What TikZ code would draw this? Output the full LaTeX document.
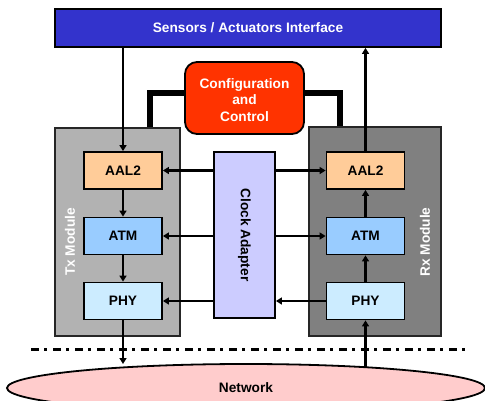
\documentclass[tikz,border=0pt]{standalone}
\usepackage{fontspec}
\setmainfont{Liberation Sans}
\usetikzlibrary{arrows.meta,shapes.geometric}

\definecolor{sensblue}{HTML}{3333CC}
\definecolor{cfgred}{HTML}{FF3300}
\definecolor{aalfill}{HTML}{FFCC99}
\definecolor{atmfill}{HTML}{99CCFF}
\definecolor{phyfill}{HTML}{CCECFF}
\definecolor{clkfill}{HTML}{CCCCFF}
\definecolor{txgray}{HTML}{B2B2B2}
\definecolor{rxgray}{HTML}{808080}
\definecolor{netpink}{HTML}{FFCCCC}

\tikzset{
  txt/.style={font=\fontsize{13.7}{16.5}\selectfont\bfseries},
  layerbox/.style={txt, draw=black, line width=1.8pt, minimum width=78pt, minimum height=37pt, inner sep=0pt},
  modulebox/.style={draw=black!85, line width=2pt, inner sep=0pt},
  flow/.style={line width=2.7pt, -{Triangle[length=6pt,width=7pt]}},
  ctrlbar/.style={line width=6pt},
  modlabel/.style={txt, text=white, rotate=90},
}

\begin{document}
\begin{tikzpicture}[x=1pt,y=-1pt]
\useasboundingbox (0,0) rectangle (485,400);
\clip (0,0) rectangle (485,400);

% top interface bar
\node[txt, draw=black, line width=1.8pt, fill=sensblue, text=white,
      minimum width=386pt, minimum height=38pt, inner sep=0pt] (sens) at (248,28)
      {Sensors / Actuators Interface};

% configuration block
\node[draw=black, line width=1.8pt, fill=cfgred, rounded corners=12pt,
      minimum width=119pt, minimum height=72pt, inner sep=0pt] (cfg) at (244.5,98) {};
\node[txt, text=white, align=center] (cfgtext) at (244.5,100) {Configuration\\and\\Control};

% transmit and receive modules
\node[modulebox, fill=txgray, minimum width=125pt, minimum height=208pt] (tx) at (117.5,232) {};
\node[modulebox, fill=rxgray, minimum width=132pt, minimum height=209pt] (rx) at (375,231.5) {};
\node[modlabel] (txlab) at (70,242) {Tx Module};
\node[modlabel] (rxlab) at (425,242) {Rx Module};

% control links to both modules
\draw[ctrlbar] ([yshift=5.5pt]cfg.west) -| ([xshift=32.5pt]tx.north);
\draw[ctrlbar] ([yshift=5.5pt]cfg.east) -| ([xshift=-35.5pt]rx.north);

% protocol layers
\node[layerbox, fill=aalfill] (txaal) at (123,170.5) {AAL2};
\node[layerbox, fill=atmfill] (txatm) at (123,236) {ATM};
\node[layerbox, fill=phyfill] (txphy) at (123,301) {PHY};
\node[layerbox, fill=aalfill] (rxaal) at (365.5,170.5) {AAL2};
\node[layerbox, fill=atmfill] (rxatm) at (365.5,236) {ATM};
\node[layerbox, fill=phyfill] (rxphy) at (365.5,301) {PHY};

% clock adapter
\node[draw=black, line width=1.8pt, fill=clkfill, minimum width=61pt, minimum height=166pt, inner sep=0pt] (clk) at (244.5,235) {};
\node[txt, rotate=-90] (clktext) at (clk.center) {Clock Adapter};

% separator between equipment and network
\coordinate (sepl) at (31,349);
\coordinate (sepr) at (465,349);
\draw[line width=3pt, dash pattern=on 8pt off 5pt on 3pt off 6pt] (sepl) -- (sepr);

% transmit path
\draw[flow] (sens.south -| txaal) -- (txaal.north);
\draw[flow] (txaal.south) -- (txatm.north);
\draw[flow] (txatm.south) -- (txphy.north);

% receive path
\draw[flow] (rxphy.north) -- (rxatm.south);
\draw[flow] (rxatm.north) -- (rxaal.south);
\draw[flow] (rxaal.north) -- (rxaal.north |- sens.south);

% clock distribution
\draw[flow] (clk.west |- txaal) -- (txaal.east);
\draw[flow] (clk.west |- txatm) -- (txatm.east);
\draw[flow] (clk.west |- txphy) -- (txphy.east);
\draw[flow] (clk.east |- rxaal) -- (rxaal.west);
\draw[flow] (clk.east |- rxatm) -- (rxatm.west);
\draw[flow] (rxphy.west) -- (clk.east |- rxphy);

% network links
\coordinate (netc) at (246,388);
\coordinate (txdrop) at (123,364);
\coordinate (rxrise) at (365.5,375);
\draw[flow] (txphy.south) -- (txdrop);
\draw[flow] (rxrise) -- (rxphy.south);

% network
\node[txt, draw=black, line width=1.8pt, fill=netpink, ellipse, minimum width=478pt, minimum height=48pt, inner sep=0pt] (net) at (netc) {Network};
\end{tikzpicture}
\end{document}
